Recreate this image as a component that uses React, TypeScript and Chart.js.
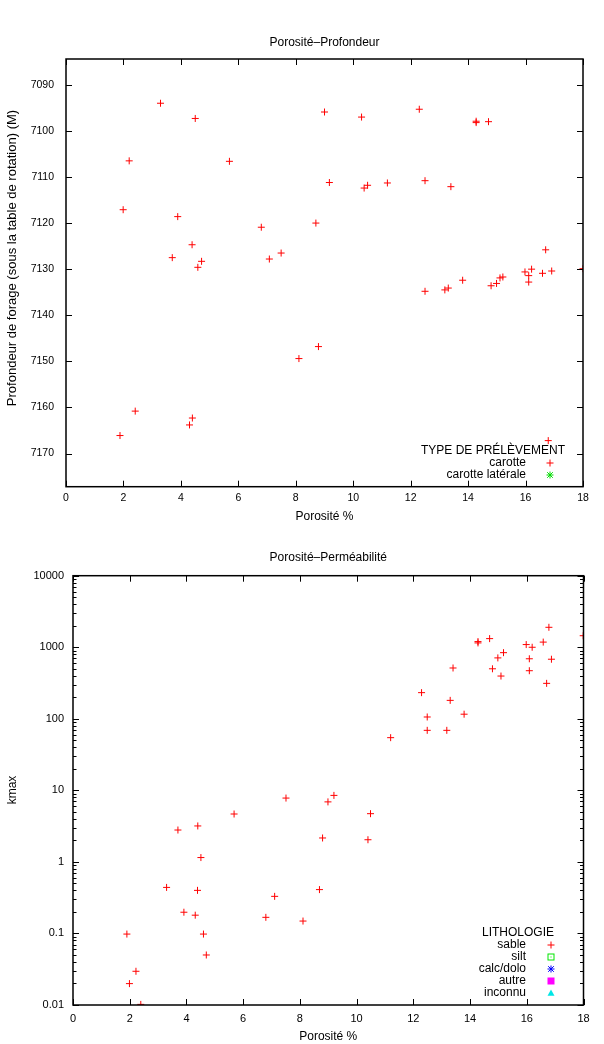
import React, { useEffect, useRef } from 'react';
import { Chart, registerables } from 'chart.js';

Chart.register(...registerables);

const FONT = "'Liberation Sans', Arial, Helvetica, sans-serif";

// ---------- Chart 1 : Porosité–Profondeur ----------
const depthTitle = 'Porosité–Profondeur';
const depthYLabel = 'Profondeur de forage (sous la table de rotation) (M)';
const porosityLabel = 'Porosité %';
const depthLegendTitle = 'TYPE DE PRÉLÈVEMENT';
const depthSeriesNames = ['carotte', 'carotte latérale'];

const depthPorosity = [
  3.29, 4.50, 9.00, 2.20, 5.69, 9.17, 1.99, 3.89, 6.80, 8.70,
  4.39, 3.70, 4.72, 4.59, 7.08, 7.49, 10.29, 12.30, 14.28, 14.28,
  14.71, 10.38, 10.50, 11.19, 12.50, 13.40, 16.70, 18.00, 13.81, 12.50,
  13.19, 13.31, 14.80, 14.99, 15.11, 15.21, 15.98, 16.11, 16.11, 16.21,
  16.59, 16.91, 8.79, 8.11, 2.41, 1.88, 4.40, 4.30, 16.79,
];
const depthDepth = [
  7094.0, 7097.3, 7095.9, 7106.5, 7106.6, 7111.2, 7117.1, 7118.6, 7120.9, 7120.0,
  7124.7, 7127.5, 7128.3, 7129.6, 7127.8, 7126.5, 7097.0, 7095.3, 7098.2, 7097.9,
  7098.0, 7112.4, 7111.8, 7111.3, 7110.8, 7112.1, 7125.8, 7129.9, 7132.4, 7134.8,
  7134.5, 7134.1, 7133.6, 7133.1, 7131.9, 7131.7, 7130.6, 7131.4, 7132.8, 7130.0,
  7130.9, 7130.4, 7146.8, 7149.4, 7160.8, 7166.1, 7162.3, 7163.8, 7167.2,
];
const depthXTicks = [0, 2, 4, 6, 8, 10, 12, 14, 16, 18];
const depthYTicks = [7090, 7100, 7110, 7120, 7130, 7140, 7150, 7160, 7170];

// ---------- Chart 2 : Porosité–Perméabilité ----------
const permTitle = 'Porosité–Perméabilité';
const permYLabel = 'kmax';
const permLegendTitle = 'LITHOLOGIE';
const permSeriesNames = ['sable', 'silt', 'calc/dolo', 'autre', 'inconnu'];

const permPorosity = [
  16.78, 17.99, 14.28, 14.28, 14.69, 15.98, 16.19, 16.58, 15.18, 14.98,
  16.09, 16.87, 13.40, 14.79, 16.09, 15.09, 16.70, 12.29, 13.30, 13.79,
  12.49, 12.49, 13.18, 11.20, 9.20, 8.99, 10.49, 5.68, 7.51, 4.40,
  3.70, 8.80, 10.40, 4.51, 3.30, 4.39, 8.69, 7.11, 3.91, 4.31,
  6.80, 8.11, 1.90, 4.60, 4.70, 2.22, 1.99, 2.39,
];
const permKmax = [
  1900, 1450, 1150, 1200, 1320, 1090, 1000, 1180, 840, 710,
  690, 680, 513, 500, 470, 396, 313, 232, 181, 116,
  106, 69, 69, 54.5, 8.5, 6.9, 4.72, 4.67, 7.8, 3.18,
  2.79, 2.16, 2.04, 1.15, 0.44, 0.40, 0.41, 0.33, 0.198, 0.18,
  0.168, 0.149, 0.098, 0.098, 0.05, 0.0296, 0.0199, 0.0102,
];
const permXTicks = [0, 2, 4, 6, 8, 10, 12, 14, 16, 18];
const permYTicks = [0.01, 0.1, 1, 10, 100, 1000, 10000];
const permYTickLabels = ['0.01', '0.1', '1', '10', '100', '1000', '10000'];

// ---------- styles ----------
const depthStyles = [
  { color: 'rgb(255,0,0)', marker: 'cross' },
  { color: 'rgb(0,220,0)', marker: 'star' },
];
const permStyles = [
  { color: 'rgb(255,0,0)', marker: 'cross' },
  { color: 'rgb(0,230,0)', marker: 'rectOpen' },
  { color: 'rgb(0,0,255)', marker: 'star' },
  { color: 'rgb(255,0,255)', marker: 'rectFilled' },
  { color: 'rgb(0,230,230)', marker: 'triangle' },
];
const chartJsStyle: Record<string, string> = {
  cross: 'cross', star: 'star', rectOpen: 'rect', rectFilled: 'rect', triangle: 'triangle',
};

function drawMarker(ctx: CanvasRenderingContext2D, marker: string, x: number, y: number, color: string) {
  const r = 3.5;
  ctx.save();
  ctx.strokeStyle = color;
  ctx.fillStyle = color;
  ctx.lineWidth = 1;
  ctx.beginPath();
  if (marker === 'cross' || marker === 'star') {
    ctx.moveTo(x - r, y); ctx.lineTo(x + r, y);
    ctx.moveTo(x, y - r); ctx.lineTo(x, y + r);
    if (marker === 'star') {
      const d = r * 0.8;
      ctx.moveTo(x - d, y - d); ctx.lineTo(x + d, y + d);
      ctx.moveTo(x - d, y + d); ctx.lineTo(x + d, y - d);
    }
    ctx.stroke();
  } else if (marker === 'rectOpen') {
    ctx.strokeRect(x - r + 0.5, y - r + 0.5, 2 * r - 1, 2 * r - 1);
    ctx.fillRect(x - 0.5, y - 0.5, 1, 1);
  } else if (marker === 'rectFilled') {
    ctx.fillRect(x - r, y - r, 2 * r, 2 * r);
  } else if (marker === 'triangle') {
    ctx.moveTo(x, y - r);
    ctx.lineTo(x + r, y + r * 0.8);
    ctx.lineTo(x - r, y + r * 0.8);
    ctx.closePath();
    ctx.fill();
  }
  ctx.restore();
}

const gnuplotPlugin = {
  id: 'gnuplot',
  afterDatasetsDraw(chart: any, _args: any, opts: any) {
    const { ctx, chartArea: a } = chart;
    const xs = chart.scales.x;
    const ys = chart.scales.y;
    const MAJ = 6;
    const MIN = 3.5;
    ctx.save();
    ctx.strokeStyle = '#000';
    ctx.lineWidth = 1;
    ctx.beginPath();
    for (const t of xs.ticks) {
      const px = Math.round(xs.getPixelForValue(t.value)) + 0.5;
      ctx.moveTo(px, a.bottom); ctx.lineTo(px, a.bottom - MAJ);
      ctx.moveTo(px, a.top); ctx.lineTo(px, a.top + MAJ);
    }
    for (const t of ys.ticks) {
      const py = Math.round(ys.getPixelForValue(t.value)) + 0.5;
      ctx.moveTo(a.left, py); ctx.lineTo(a.left + MAJ, py);
      ctx.moveTo(a.right, py); ctx.lineTo(a.right - MAJ, py);
    }
    if (opts.logMinor) {
      for (let i = 0; i < ys.ticks.length - 1; i++) {
        const base = ys.ticks[i].value;
        for (let k = 2; k <= 9; k++) {
          const py = Math.round(ys.getPixelForValue(base * k)) + 0.5;
          ctx.moveTo(a.left, py); ctx.lineTo(a.left + MIN, py);
          ctx.moveTo(a.right, py); ctx.lineTo(a.right - MIN, py);
        }
      }
    }
    ctx.stroke();
    ctx.lineWidth = 1.5;
    ctx.strokeRect(a.left, a.top, a.right - a.left, a.bottom - a.top);

    // texts
    ctx.fillStyle = '#000';
    ctx.font = `12px ${FONT}`;
    ctx.textAlign = 'center';
    ctx.textBaseline = 'alphabetic';
    const cx = (a.left + a.right) / 2;
    ctx.fillText(opts.title, cx, a.top - opts.titleGap);
    ctx.fillText(opts.xLabel, cx, a.bottom + opts.xLabelGap);
    ctx.save();
    ctx.font = `${opts.yLabelSize}px ${FONT}`;
    ctx.translate(opts.yLabelX, opts.yLabelY);
    ctx.rotate(-Math.PI / 2);
    ctx.fillText(opts.yLabel, 0, 0);
    ctx.restore();

    // legend
    const lg = opts.legend;
    ctx.textAlign = 'right';
    ctx.textBaseline = 'middle';
    ctx.fillText(lg.title, lg.titleRight, lg.top);
    chart.data.datasets.forEach((ds: any, i: number) => {
      const y = lg.top + (i + 1) * lg.step;
      ctx.fillStyle = '#000';
      ctx.fillText(ds.label, lg.textRight, y);
      drawMarker(ctx, ds.marker, lg.markerX, y, ds.borderColor);
    });
    ctx.restore();
  },
};

function baseX(ticks: number[], padding: number, size: number) {
  return {
    type: 'linear',
    min: 0,
    max: 18,
    grid: { display: false, drawTicks: false },
    border: { display: false },
    ticks: {
      padding, color: '#000', font: { size, family: FONT }, autoSkip: false, maxRotation: 0,
      callback: (v: number) => String(v),
    },
    afterBuildTicks: (s: any) => { s.ticks = ticks.map((v) => ({ value: v })); },
    afterFit: (s: any) => { s.height = 20; },
  };
}

function makeDataset(name: string, style: any, xsArr: number[], ysArr: number[]) {
  return {
    label: name,
    marker: style.marker,
    data: xsArr.map((x, i) => ({ x, y: ysArr[i] })),
    pointStyle: chartJsStyle[style.marker],
    pointRadius: 3.5,
    pointBorderWidth: 1,
    borderColor: style.color,
    backgroundColor: style.color,
    showLine: false,
  };
}

function depthConfig(): any {
  return {
    type: 'scatter',
    data: {
      datasets: depthSeriesNames.map((n, i) =>
        i === 0 ? makeDataset(n, depthStyles[i], depthPorosity, depthDepth) : makeDataset(n, depthStyles[i], [], [])),
    },
    options: {
      responsive: false,
      animation: false,
      events: [],
      layout: { padding: { left: 0, right: 21, top: 59, bottom: 15.3 } },
      scales: {
        x: baseX(depthXTicks, 5.5, 10.5),
        y: {
          type: 'linear',
          reverse: true,
          min: 7084.4,
          max: 7177.2,
          grid: { display: false, drawTicks: false },
          border: { display: false },
          ticks: { padding: 12, color: '#000', font: { size: 10.5, family: FONT }, callback: (v: number) => String(v) },
          afterBuildTicks: (s: any) => { s.ticks = depthYTicks.map((v) => ({ value: v })); },
          afterFit: (s: any) => { s.width = 66; },
        },
      },
      plugins: {
        legend: { display: false },
        tooltip: { enabled: false },
        gnuplot: {
          title: depthTitle,
          titleGap: 13,
          xLabel: porosityLabel,
          xLabelGap: 33,
          yLabel: depthYLabel,
          yLabelSize: 13,
          yLabelX: 15.5,
          yLabelY: 258,
          legend: { title: depthLegendTitle, titleRight: 565, top: 451, step: 12, textRight: 526, markerX: 550 },
        },
      },
    },
    plugins: [gnuplotPlugin],
  };
}

function permConfig(): any {
  return {
    type: 'scatter',
    data: {
      datasets: permSeriesNames.map((n, i) =>
        i === 0 ? makeDataset(n, permStyles[i], permPorosity, permKmax) : makeDataset(n, permStyles[i], [], [])),
    },
    options: {
      responsive: false,
      animation: false,
      events: [],
      layout: { padding: { left: 0, right: 20.5, top: 53.7, bottom: 19 } },
      scales: {
        x: baseX(permXTicks, 7, 11),
        y: {
          type: 'logarithmic',
          min: 0.01,
          max: 10000,
          grid: { display: false, drawTicks: false },
          border: { display: false },
          ticks: {
            padding: 9,
            color: '#000',
            font: { size: 11, family: FONT },
            callback: (v: number) => {
              const i = permYTicks.indexOf(v);
              return i >= 0 ? permYTickLabels[i] : '';
            },
          },
          afterBuildTicks: (s: any) => { s.ticks = permYTicks.map((v) => ({ value: v })); },
          afterFit: (s: any) => { s.width = 73; },
        },
      },
      plugins: {
        legend: { display: false },
        tooltip: { enabled: false },
        gnuplot: {
          title: permTitle,
          titleGap: 15,
          xLabel: porosityLabel,
          xLabelGap: 35,
          yLabel: permYLabel,
          yLabelSize: 12,
          yLabelX: 15.5,
          yLabelY: 268,
          logMinor: true,
          legend: { title: permLegendTitle, titleRight: 554, top: 411, step: 12, textRight: 526, markerX: 551 },
        },
      },
    },
    plugins: [gnuplotPlugin],
  };
}

function GnuplotCanvas({ build }: { build: () => any }) {
  const ref = useRef<HTMLCanvasElement>(null);
  useEffect(() => {
    const chart = new Chart(ref.current as HTMLCanvasElement, build());
    return () => chart.destroy();
  }, []);
  return <canvas ref={ref} width={604} height={522} style={{ display: 'block', width: 604, height: 522 }} />;
}

export default function App() {
  return (
    <div style={{ position: 'absolute', left: 0, top: 0, width: 604, height: 1044, background: '#fff' }}>
      <GnuplotCanvas build={depthConfig} />
      <GnuplotCanvas build={permConfig} />
    </div>
  );
}
